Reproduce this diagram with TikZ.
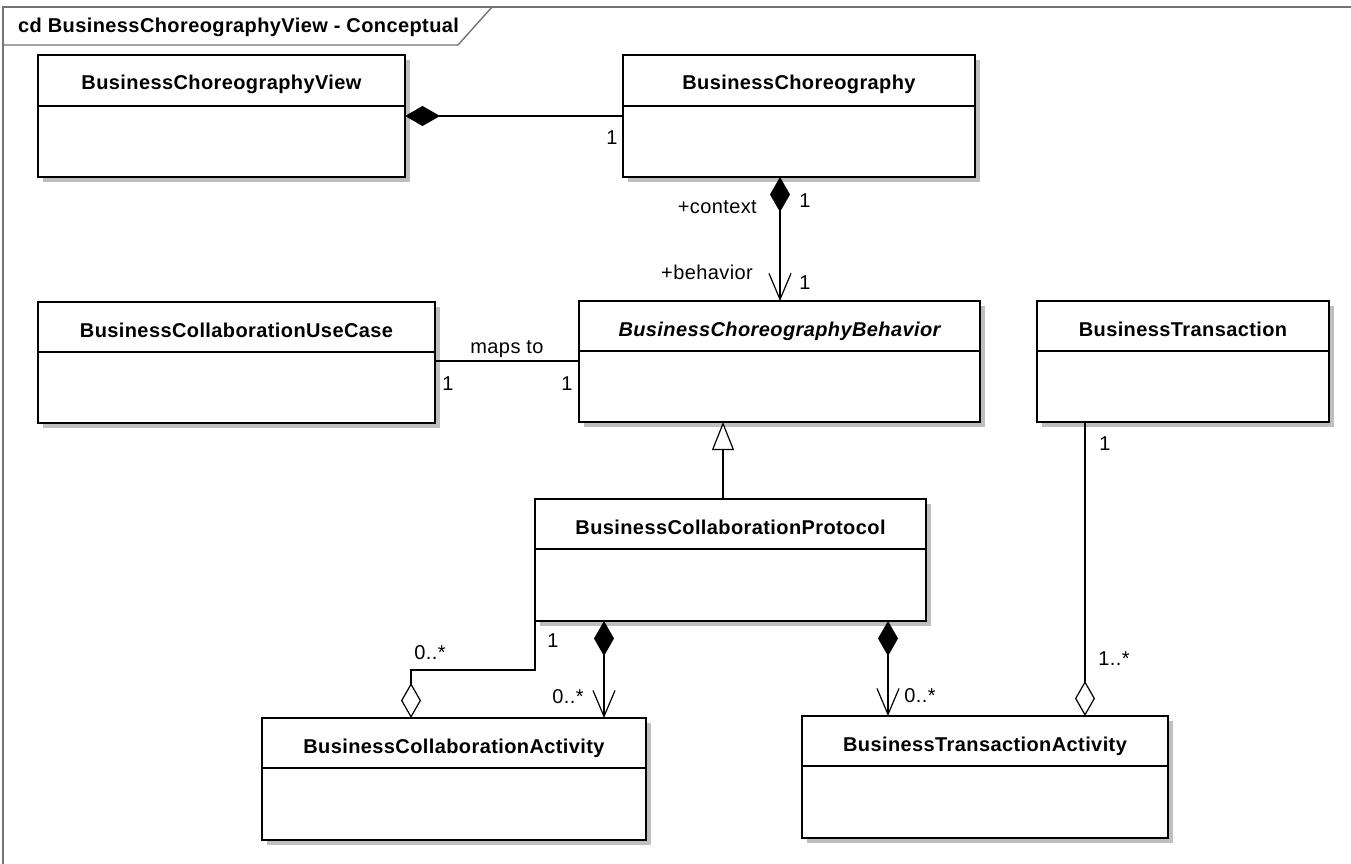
\documentclass[tikz,border=0pt]{standalone}
\usepackage{fontspec}
\setmainfont[LetterSpace=2]{Liberation Sans}
\usetikzlibrary{arrows.meta,calc}

\tikzset{
  framelinestyle/.style={draw=black!55, line width=1.4pt},
  shadowfill/.style={fill=black!25},
  classbox/.style={draw=black, fill=white, line width=1.4pt, inner sep=0pt, outer sep=0pt},
  boxline/.style={draw=black, line width=1.2pt},
  classname/.style={font=\fontsize{20}{23}\selectfont\bfseries, inner sep=0pt},
  assoclabel/.style={font=\fontsize{20}{23}\selectfont, inner sep=0pt, anchor=base},
  conn/.style={draw=black, line width=1.2pt},
  compstart/.style={{Diamond[length=35pt,width=20pt,fill=black]}-},
  compnav/.style={{Diamond[length=35pt,width=20pt,fill=black]}-{Straight Barb[length=26pt,width=22pt]}},
  aggend/.style={-{Diamond[length=35pt,width=20pt,fill=white]}},
  genend/.style={-{Triangle[length=28pt,width=22pt,fill=white]}},
}

% class box: name, x1, y1, x2, y2, divider y, title
\newcommand\umlclass[7]{%
  \fill[shadowfill] ({#2+5},{#3+5}) rectangle ({#4+5},{#5+5});
  \node[classbox, minimum width={(#4-#2)*1pt}, minimum height={(#5-#3)*1pt}]
    (#1) at ({(#2+#4)/2},{(#3+#5)/2}) {};
  \draw[boxline] (#1.west |- 0,#6) -- (#1.east |- 0,#6);
  \node[classname, anchor=base] (#1-name) at ({(#2+#4)/2},{#3+35}) {#7};
}

\begin{document}
\begin{tikzpicture}[x=1pt,y=-1pt]
  \useasboundingbox[fill=white] (0,0) rectangle (1351,864);

  % diagram frame with its name tab
  \draw[framelinestyle] (3,864) -- (3,7) -- (1351,7);
  \draw[framelinestyle] (3,45) -- (458,45) -- (492,7);
  \node[font=\fontsize{20}{23}\selectfont\bfseries, inner sep=0pt, anchor=base west]
    (frametitle) at (18,33) {cd BusinessChoreographyView - Conceptual};

  % classes
  \umlclass{bcv}{38}{55}{405}{177}{106}{BusinessChoreographyView}
  \umlclass{bc}{623}{55}{975}{177}{106}{BusinessChoreography}
  \umlclass{bcuc}{38}{302}{435}{423}{352}{BusinessCollaborationUseCase}
  \umlclass{bcb}{579}{301}{980}{422}{351}{\itshape BusinessChoreographyBehavior}
  \umlclass{bt}{1037}{301}{1329}{422}{351}{BusinessTransaction}
  \umlclass{bcp}{535}{499}{926}{621}{549}{BusinessCollaborationProtocol}
  \umlclass{bca}{262}{718}{646}{840}{768}{BusinessCollaborationActivity}
  \umlclass{bta}{802}{716}{1168}{838}{766}{BusinessTransactionActivity}

  % relations
  \draw[conn, compstart] (bcv.east |- 0,116) -- (bc.west |- 0,116);
  \draw[conn, compnav] (bc.south -| 780,0) -- (bcb.north -| 780,0);
  \draw[conn] (bcuc.east |- 0,361) -- (bcb.west |- 0,361);
  \draw[conn, genend] (bcp.north -| 723,0) -- (bcb.south -| 723,0);
  \draw[conn, aggend] (bcp.south west) -- ++(0,49) -| (bca.north -| 411,0);
  \draw[conn, compnav] (bcp.south -| 604,0) -- (bca.north -| 604,0);
  \draw[conn, compnav] (bcp.south -| 888,0) -- (bta.north -| 888,0);
  \draw[conn, aggend] (bt.south -| 1085,0) -- (bta.north -| 1085,0);

  % role names and multiplicities
  \node[assoclabel] (m1) at (612,144) {1};
  \node[assoclabel, anchor=base east] (r1) at (757,213) {+context};
  \node[assoclabel] (m2) at (805,207) {1};
  \node[assoclabel, anchor=base east] (r2) at (753,279) {+behavior};
  \node[assoclabel] (m3) at (805,289) {1};
  \node[assoclabel] (n1) at (507,353) {maps to};
  \node[assoclabel] (m4) at (448,390) {1};
  \node[assoclabel] (m5) at (567,390) {1};
  \node[assoclabel] (m6) at (430,659) {0..*};
  \node[assoclabel] (m7) at (553,647) {1};
  \node[assoclabel] (m8) at (568,703) {0..*};
  \node[assoclabel] (m9) at (920,702) {0..*};
  \node[assoclabel] (m10) at (1105,450) {1};
  \node[assoclabel] (m11) at (1114,665) {1..*};
\end{tikzpicture}
\end{document}
